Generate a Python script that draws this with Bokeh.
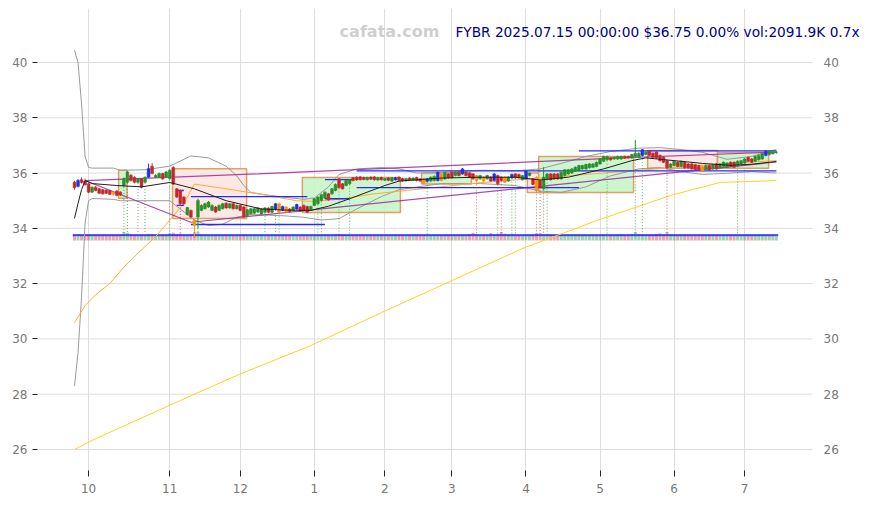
from bokeh.plotting import figure
from bokeh.models import Range1d, FixedTicker, Label, ColumnDataSource
from bokeh.core.properties import value
from bokeh.embed import file_html
from bokeh.resources import INLINE

# ---------------- data ----------------
opens = [35.67,35.52,35.76,35.70,35.61,35.31,35.49,35.43,35.40,35.38,
         35.37,35.30,35.35,35.31,35.55,35.67,35.92,35.85,35.67,35.79,
         35.67,35.85,36.25,35.85,35.85,35.98,35.85,35.80,36.20,35.43,
         35.37,35.13,34.50,34.65,34.29,34.41,34.65,34.71,34.77,34.65,
         34.77,34.65,34.71,34.91,34.74,34.89,34.71,34.83,34.77,34.47,
         34.53,34.55,34.59,34.52,34.58,34.73,34.58,34.70,34.89,34.65,
         34.77,34.70,34.65,34.70,34.77,34.83,34.79,34.67,34.83,34.89,
         35.01,35.10,35.25,35.25,35.37,35.79,35.61,35.55,35.61,35.83,
         35.85,35.86,35.84,35.76,35.85,35.86,35.75,35.84,35.74,35.82,
         35.71,35.76,35.85,35.80,35.72,35.82,35.74,35.84,35.79,35.79,
         35.70,35.71,35.73,35.73,35.97,35.79,35.97,36.03,35.91,36.03,
         35.97,36.03,36.00,35.97,35.91,35.79,35.85,35.79,35.85,35.73,
         35.91,35.85,35.85,35.71,35.83,35.97,35.95,35.76,35.79,35.91,
         35.79,35.85,35.73,35.43,35.79,35.97,35.97,35.97,35.79,35.91,
         35.97,36.00,36.07,36.09,36.15,36.15,36.19,36.21,36.24,36.33,
         36.43,36.48,36.55,36.51,36.51,36.51,36.60,36.60,36.55,36.60,
         36.57,36.64,36.67,36.79,36.72,36.76,36.64,36.57,36.45,36.21,
         36.27,36.39,36.24,36.39,36.33,36.33,36.30,36.27,36.24,36.15,
         36.27,36.15,36.33,36.19,36.24,36.21,36.39,36.39,36.27,36.33,
         36.36,36.57,36.51,36.43,36.48,36.51,36.64,36.67,36.70,36.75]
closes = [35.47,35.73,35.66,35.58,35.31,35.49,35.37,35.27,35.25,35.27,
          35.23,35.23,35.19,35.21,35.80,36.04,35.73,35.67,35.79,35.49,
          35.85,36.16,35.98,35.92,35.98,35.79,36.04,36.10,35.60,35.13,
          34.89,34.89,34.75,34.41,34.11,35.01,34.83,34.89,34.95,34.83,
          34.59,34.83,34.89,34.74,34.89,34.71,34.83,34.65,34.41,34.67,
          34.71,34.71,34.74,34.70,34.74,34.58,34.79,34.89,34.58,34.79,
          34.58,34.61,34.77,34.86,34.62,34.65,34.58,34.79,35.07,35.13,
          35.22,35.31,35.03,35.43,35.59,35.47,35.43,35.73,35.75,35.73,
          35.75,35.76,35.77,35.84,35.78,35.76,35.83,35.76,35.80,35.74,
          35.83,35.83,35.74,35.72,35.80,35.75,35.82,35.73,35.71,35.63,
          35.79,35.85,35.88,36.03,35.73,36.03,35.83,35.83,36.03,35.91,
          36.15,35.91,35.85,35.79,35.73,35.91,35.71,35.91,35.71,35.97,
          35.61,35.73,35.67,35.85,35.95,35.83,35.83,35.91,36.07,36.00,
          35.59,35.37,35.49,35.85,35.97,35.76,35.79,35.79,36.03,36.12,
          36.12,36.15,36.21,36.27,36.27,36.31,36.33,36.33,36.39,36.51,
          36.60,36.60,36.48,36.57,36.60,36.60,36.54,36.55,36.67,36.72,
          36.72,36.84,36.76,36.64,36.57,36.55,36.45,36.39,36.19,36.33,
          36.43,36.24,36.43,36.19,36.19,36.15,36.12,36.12,36.07,36.27,
          36.12,36.30,36.15,36.33,36.39,36.36,36.24,36.21,36.43,36.45,
          36.51,36.43,36.39,36.60,36.64,36.70,36.79,36.79,36.75,36.75]
highs = [35.72,35.78,35.84,35.80,35.64,35.52,35.53,35.46,35.42,35.41,
         35.40,35.33,35.38,35.34,35.84,36.08,35.96,35.88,35.83,35.82,
         35.88,36.34,36.36,35.96,36.02,36.01,36.08,36.15,36.25,35.46,
         35.40,35.16,34.78,34.68,34.33,35.07,34.87,34.93,34.99,34.87,
         34.81,34.86,34.92,34.94,34.92,34.92,34.86,34.86,34.80,34.70,
         34.74,34.74,34.77,34.73,34.77,34.76,34.82,34.92,34.93,34.82,
         34.80,34.73,34.80,34.89,34.80,34.86,34.82,34.82,35.10,35.16,
         35.25,35.34,35.28,35.46,35.62,35.82,35.64,35.76,35.78,35.86,
         35.88,35.89,35.87,35.87,35.88,35.89,35.86,35.87,35.83,35.85,
         35.86,35.86,35.88,35.83,35.83,35.85,35.85,35.87,35.82,35.82,
         35.82,35.88,35.91,36.06,36.00,36.06,36.00,36.06,36.06,36.06,
         36.18,36.06,36.03,36.00,35.94,35.94,35.88,35.94,35.88,36.00,
         35.94,35.88,35.88,35.88,35.98,36.00,35.98,35.94,36.10,36.03,
         35.82,35.88,35.76,36.21,36.00,36.00,36.00,36.00,36.06,36.15,
         36.15,36.18,36.24,36.30,36.30,36.34,36.36,36.36,36.42,36.54,
         36.63,36.63,36.58,36.60,36.63,36.63,36.63,36.63,36.70,37.20,
         36.75,36.87,36.79,36.82,36.75,36.79,36.67,36.60,36.48,36.36,
         36.46,36.42,36.46,36.42,36.36,36.36,36.33,36.30,36.27,36.30,
         36.30,36.33,36.36,36.36,36.42,36.39,36.42,36.42,36.46,36.48,
         36.54,36.60,36.54,36.63,36.67,36.73,36.82,36.82,36.84,36.80]
lows = [35.40,35.48,35.62,35.55,35.27,35.28,35.34,35.24,35.22,35.24,
        35.20,35.18,35.16,35.17,35.50,35.64,35.70,35.63,35.64,35.45,
        35.64,35.82,35.95,35.82,35.82,35.76,35.82,35.77,35.57,35.10,
        34.85,34.85,34.46,34.38,33.66,34.00,34.62,34.68,34.74,34.62,
        34.56,34.62,34.68,34.71,34.71,34.68,34.68,34.62,34.38,34.44,
        34.50,34.52,34.56,34.49,34.55,34.55,34.55,34.67,34.54,34.62,
        34.55,34.58,34.62,34.67,34.59,34.62,34.55,34.64,34.80,34.86,
        34.98,35.07,35.00,35.22,35.34,35.44,35.40,35.52,35.58,35.70,
        35.72,35.73,35.74,35.73,35.75,35.73,35.72,35.73,35.71,35.71,
        35.68,35.73,35.71,35.69,35.69,35.72,35.71,35.70,35.68,35.60,
        35.67,35.68,35.70,35.70,35.70,35.76,35.80,35.80,35.88,35.88,
        35.94,35.88,35.82,35.76,35.70,35.76,35.68,35.76,35.68,35.70,
        35.58,35.70,35.64,35.68,35.80,35.80,35.80,35.73,35.76,35.88,
        35.56,35.34,35.46,35.40,35.76,35.73,35.76,35.76,35.76,35.88,
        35.94,35.97,36.04,36.06,36.12,36.12,36.16,36.18,36.21,36.30,
        36.40,36.45,36.45,36.48,36.48,36.48,36.51,36.52,36.52,36.57,
        36.54,36.61,36.64,36.61,36.54,36.52,36.42,36.36,36.16,36.18,
        36.24,36.21,36.21,36.16,36.16,36.12,36.09,36.09,36.04,36.12,
        36.09,36.12,36.12,36.16,36.21,36.18,36.21,36.18,36.24,36.30,
        36.33,36.40,36.36,36.40,36.45,36.48,36.61,36.64,36.67,36.70]
volumes_k = [2900,3100,2700,2600,3000,2500,2600,2800,2700,2500,
             2600,2900,2700,2600,4300,3900,3000,2800,2600,2900,
             2700,3200,3100,2600,2500,2700,2600,3600,3900,3300,
             3500,3000,2800,3200,4100,4400,3000,2700,2600,2500,
             2700,2600,2500,2600,2400,2600,2500,2700,3000,2600,
             2500,2400,2500,2600,2500,2600,2700,2800,3000,2600,
             2700,2500,2400,2600,2500,2700,2600,2500,2800,3000,
             2900,2700,2800,2600,3000,3200,2900,2800,2600,2500,
             2600,2700,2500,2400,2600,2500,2700,2600,2500,2400,
             2600,2500,2600,2700,2500,2600,2700,2800,2600,2700,
             2600,2500,2700,2900,2800,2600,2700,2500,2600,2800,
             2900,2700,3200,3900,3300,2800,3000,2700,3800,2900,
             3300,4200,3400,3000,3100,2800,2700,2600,2900,2800,
             3000,3600,3500,3300,3100,2900,2800,2700,2600,2800,
             2700,2600,2800,2700,2600,2500,2700,2600,2800,2700,
             2900,2600,2700,2800,2900,3100,2800,3000,3200,4200,
             3200,3100,2900,3000,2800,3200,3600,2900,4200,3000,
             2700,2800,2600,2700,2800,2600,2500,2700,2600,2800,
             2600,2700,2600,2500,2800,2700,2600,2500,2700,2800,
             2600,2700,2500,2600,2800,2900,2700,2600,2800,2091.9]
blue_bars = [1, 21, 57, 59, 63, 91, 100, 103, 110, 119, 124, 128, 161, 196]
orange_bars = [11, 34, 58, 60, 99, 104, 114, 116, 122, 131, 178]
green_signals = [14, 15, 18, 20, 27, 35, 54, 57, 58, 69, 70, 75, 78, 100,
                 120, 124, 125, 134, 151, 159, 161, 188]
red_signals = [30, 114, 121, 131, 132, 133, 168]

month_ticks = [4, 27, 47, 68, 88, 107, 128, 149, 170, 190]
month_labels = ["10", "11", "12", "1", "2", "3", "4", "5", "6", "7"]
price_ticks = [26, 28, 30, 32, 34, 36, 38, 40]

# indicator lines (bar index, price)
mid_x = [0, 1, 2, 3, 5, 12, 19, 27, 34, 43, 53, 60, 67, 72, 78, 88, 92, 104, 115, 125, 132, 140, 150, 158, 162, 170, 178, 186, 192, 199]
mid_y = [34.36, 34.9, 35.4, 35.73, 35.62, 35.55, 35.5, 35.66, 35.43, 35.0, 34.7, 34.66, 34.65, 34.8, 35.07, 35.55, 35.71, 35.82, 35.85, 35.85, 35.75, 35.85, 36.15, 36.45, 36.55, 36.45, 36.35, 36.28, 36.32, 36.42]
up_x = [0, 1, 2, 3, 4, 5, 11, 13, 20, 27, 33, 38, 43, 46, 48, 50, 55, 60, 65, 68, 72, 75, 80, 87, 92, 97, 104, 115, 125, 132, 138, 145, 152, 160, 166, 172, 178, 185, 192, 199]
up_y = [40.45, 40.0, 38.5, 36.6, 36.2, 36.18, 36.18, 36.1, 36.12, 36.25, 36.62, 36.55, 36.25, 35.9, 35.55, 35.3, 35.2, 35.12, 35.05, 35.1, 35.5, 35.95, 36.15, 36.2, 36.15, 36.0, 36.02, 36.1, 36.08, 36.15, 36.35, 36.6, 36.78, 36.9, 36.92, 36.85, 36.75, 36.5, 36.6, 36.85]
lo_x = [0, 1, 2, 3, 4, 5, 11, 13, 20, 27, 30, 34, 38, 42, 46, 50, 60, 65, 70, 75, 80, 87, 92, 104, 115, 125, 132, 138, 145, 152, 160, 166, 172, 178, 186, 192, 199]
lo_y = [28.3, 29.5, 31.5, 34.2, 35.0, 35.08, 35.05, 35.0, 35.0, 35.0, 34.7, 34.3, 34.1, 34.15, 34.4, 34.5, 34.45, 34.4, 34.3, 34.35, 34.7, 35.15, 35.4, 35.62, 35.62, 35.55, 35.35, 35.3, 35.5, 35.9, 36.15, 36.2, 36.05, 35.95, 36.0, 36.05, 36.0]
ma50_x = [0, 3, 6, 10, 14, 18, 23, 27, 31, 34, 42, 52, 63, 68, 75, 85, 100, 115, 125, 135, 145, 155, 165, 175, 185, 199]
ma50_y = [30.59, 31.2, 31.6, 32.0, 32.6, 33.1, 33.7, 34.3, 34.9, 35.6, 35.45, 35.25, 35.0, 34.97, 35.05, 35.25, 35.45, 35.65, 35.75, 35.85, 35.95, 36.05, 36.15, 36.25, 36.35, 36.45]
ma200_x = [0, 5, 27, 46, 67, 87, 107, 127, 148, 169, 183, 199]
ma200_y = [26.0, 26.33, 27.6, 28.68, 29.76, 30.95, 32.11, 33.27, 34.28, 35.19, 35.66, 35.73]
trend_hi_x = [3, 52, 106, 155, 199]
trend_hi_y = [35.73, 35.97, 36.27, 36.55, 36.76]
trend_lo_x = [3, 33, 199]
trend_lo_y = [35.73, 34.22, 36.40]

level_x0 = [29, 29, 33, 33, 71, 71, 80, 80, 143]
level_x1 = [31, 31, 66, 71, 79, 78, 199, 143, 199]
level_y = [35.37, 34.83, 35.15, 34.14, 35.76, 35.07, 36.08, 35.47, 36.80]

box_left = [12.5, 27.8, 64.6, 98.4, 128.4, 131.6, 162.5, 182.3]
box_right = [14.9, 48.8, 92.4, 112.5, 140.0, 158.5, 182.3, 196.8]
box_bottom = [35.09, 34.36, 34.57, 35.60, 35.30, 35.30, 36.17, 36.17]
box_top = [36.10, 36.16, 35.84, 36.00, 36.00, 36.60, 36.82, 36.74]
box_kind = ["up", "down", "up", "up", "down", "up", "down", "up"]

vol_avg_levels = [2750, 2400]

title_text = "FYBR 2025.07.15 00:00:00 $36.75 0.00% vol:2091.9K 0.7x"
watermark = "cafata.com"

# ---------------- figure ----------------
FONT = "DejaVu Sans"
X_LO, X_GRID_END, X_HI = -10.49, 209.24, 224.55
p = figure(width=871, height=505, output_backend="svg", toolbar_location=None,
           x_range=Range1d(X_LO, X_HI), y_range=Range1d(25.239, 41.954),
           min_border_left=37, min_border_right=5, min_border_top=8,
           min_border_bottom=35)
p.outline_line_color = None
p.background_fill_color = "white"
p.border_fill_color = "white"
p.extra_y_ranges = {"vol": Range1d(-115000, 116000)}

n = len(closes)
idx = list(range(n))

# axes
p.xaxis.ticker = FixedTicker(ticks=month_ticks)
p.xaxis.major_label_overrides = {t: l for t, l in zip(month_ticks, month_labels)}
p.yaxis.ticker = FixedTicker(ticks=price_ticks)
for ax in p.axis:
    ax.axis_line_color = None
    ax.minor_tick_line_color = None
    ax.major_tick_line_color = "#222222"
    ax.major_label_text_color = "#777777"
    ax.major_label_text_font = FONT
    ax.major_label_text_font_size = "12px"
p.xaxis.major_tick_out = 6
p.xaxis.major_tick_in = 0
p.xaxis.major_label_standoff = 7
p.yaxis.major_tick_out = 5
p.yaxis.major_tick_in = 0
p.yaxis.major_label_standoff = 5
p.xgrid.grid_line_color = "#dddddd"
p.ygrid.visible = False

# horizontal grid lines stop at the plot edge; right-hand price labels
p.segment(x0=[X_LO] * len(price_ticks), x1=[X_GRID_END] * len(price_ticks),
          y0=price_ticks, y1=price_ticks, line_color="#dddddd", line_width=1)
p.text(x=[212.36] * len(price_ticks), y=price_ticks,
       text=[str(t) for t in price_ticks], text_font=value(FONT),
       text_font_size="12px", text_color="#777777", text_baseline="middle",
       text_align="left")

# boxes
bcol = {"up": "#c9f5c9", "down": "#fde6e1"}
p.quad(left=box_left, right=box_right, bottom=box_bottom, top=box_top,
       fill_color=[bcol[k] for k in box_kind], fill_alpha=0.9,
       line_color="#dfa062", line_width=1.5)

# volume
vcol = ["#3a9a3a" if c >= o else "#c84040" for o, c in zip(opens, closes)]
p.vbar(x=idx, top=volumes_k, bottom=0, width=0.85, fill_color=vcol,
       line_color=None, fill_alpha=0.45, y_range_name="vol")
for lvl, a in zip(vol_avg_levels, [1.0, 0.6]):
    p.line(x=[-0.5, n - 0.5], y=[lvl, lvl], line_color="#2b2bff", line_width=1.3,
           line_alpha=a, y_range_name="vol")

# bands and averages
p.line(up_x, up_y, line_color="#9a9a9a", line_width=1)
p.line(lo_x, lo_y, line_color="#9a9a9a", line_width=1)
p.line(ma200_x, ma200_y, line_color="#ffd21f", line_width=1)
p.line(ma50_x, ma50_y, line_color="#ffac30", line_width=1)
p.line(trend_hi_x, trend_hi_y, line_color="#9c2a9c", line_width=1.2, line_alpha=0.85)
p.line(trend_lo_x, trend_lo_y, line_color="#9c2a9c", line_width=1.2, line_alpha=0.85)

# levels
p.segment(x0=level_x0, x1=level_x1, y0=level_y, y1=level_y,
          line_color="#2828ff", line_width=1.3)

# signal dotted lines
vol_top_price = 33.8
p.segment(x0=green_signals, x1=green_signals, y0=[lows[i] for i in green_signals],
          y1=[vol_top_price] * len(green_signals), line_color="#3aa03a",
          line_dash="1 2", line_width=1, line_alpha=0.8)
p.segment(x0=red_signals, x1=red_signals, y0=[lows[i] for i in red_signals],
          y1=[vol_top_price] * len(red_signals), line_color="#d04040",
          line_dash="1 2", line_width=1, line_alpha=0.8)

# candles
colors = []
for i in idx:
    if i in blue_bars:
        colors.append("#1f2fe8")
    elif i in orange_bars:
        colors.append("#ff9000")
    elif closes[i] >= opens[i]:
        colors.append("#2b8f2b")
    else:
        colors.append("#c3282b")
src = ColumnDataSource(dict(x=idx, o=opens, c=closes, h=highs, l=lows,
                            top=[max(a, b) for a, b in zip(opens, closes)],
                            bot=[min(a, b) for a, b in zip(opens, closes)],
                            col=colors))
p.segment(x0="x", x1="x", y0="l", y1="h", line_color="col", line_width=1, source=src)
p.vbar(x="x", top="top", bottom="bot", width=0.8, fill_color="col",
       line_color="col", line_width=0.5, source=src)

p.line(mid_x, mid_y, line_color="#202020", line_width=1)

# texts
p.add_layout(Label(x=89.3, y=41.12, text=watermark, text_align="center",
                   text_baseline="alphabetic", text_font=FONT,
                   text_font_style="bold", text_font_size="16px",
                   text_color="#cfcfcf"))
p.add_layout(Label(x=108.0, y=41.12, text=title_text, text_align="left",
                   text_baseline="alphabetic", text_font=FONT,
                   text_font_size="13.7px", text_color="#00008b"))

open("out.html", "w").write(file_html(p, INLINE))
